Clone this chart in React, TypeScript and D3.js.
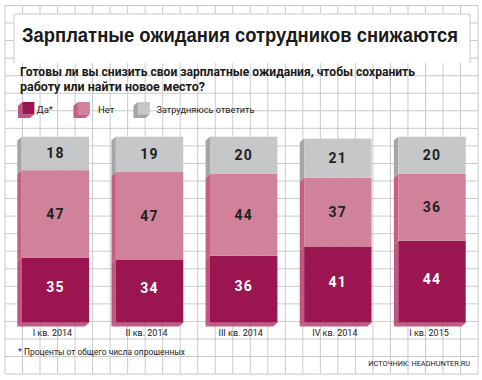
import React from "react";
import * as d3 from "d3";

const quarters = ["I кв. 2014", "II кв. 2014", "III кв. 2014", "IV кв. 2014", "I кв. 2015"];
const yesValues = [35, 34, 36, 41, 44];
const noValues = [47, 47, 44, 37, 36];
const unsureValues = [18, 19, 20, 21, 20];
const seriesKeys = ["yes", "no", "unsure"];
const seriesNames = ["Да*", "Нет", "Затрудняюсь ответить"];
const titleText = "Зарплатные ожидания сотрудников снижаются";
const subtitleLines = ["Готовы ли вы снизить свои зарплатные ожидания, чтобы сохранить", "работу или найти новое место?"];
const footnoteText = "* Проценты от общего числа опрошенных";
const sourceText = "ИСТОЧНИК: HEADHUNTER.RU";

const W = 482;
const H = 380;
const frontColors = ["#9b1651", "#d1829b", "#c6c7c9"];
const sideColors = ["#bf5680", "#c5617f", "#a4a5a8"];
const bottomColor = "#c25a82";
const gridColor = "#cbcbcb";
const DX = 4.4;
const DY = 3.8;

export default function App() {
  const rows = quarters.map((q, i) => ({ q, yes: yesValues[i], no: noValues[i], unsure: unsureValues[i] }));
  const stack = d3.stack<any>().keys(seriesKeys)(rows);
  const x = d3.scaleBand<string>().domain(quarters).range([21.7, 465.7]).paddingInner(0.284).paddingOuter(0);
  const y = d3.scaleLinear().domain([0, 100]).range([322.7, 136.7]);

  const vLines = d3.range(0, 28).map((i) => 5 + i * 17.52);
  const hLines = d3.range(0, 22).map((j) => 5.5 + j * 17.55);

  const legendX = [18, 73.5, 133.5];
  const legendTextX = [36.5, 98, 156.5];
  const legendTextW = [16.5, 16.5, 98];

  const font = "Roboto, 'Liberation Sans', Arial, sans-serif";

  return (
    <div style={{ position: "fixed", left: 0, top: 0, width: W, height: H, background: "#fff" }}>
      <svg width={W} height={H} style={{ display: "block" }}>
        <rect x={0} y={0} width={W} height={H} fill="#fff" />
        {/* grid */}
        <g stroke={gridColor} strokeWidth={1}>
          {vLines.map((vx, i) => (
            <line key={"v" + i} x1={vx} x2={vx} y1={hLines[0]} y2={hLines[hLines.length - 1]} />
          ))}
          {hLines.map((hy, j) => (
            <line key={"h" + j} x1={vLines[0]} x2={vLines[vLines.length - 1]} y1={hy} y2={hy} />
          ))}
        </g>
        {/* title box */}
        <rect x={14} y={14} width={456} height={49} fill="#fff" />
        <path d="M14,63 L14,14 L470,14 L470,63" fill="none" stroke={gridColor} strokeWidth={1} />
        <text x={22} y={41.5} fontFamily="'Liberation Sans', Arial, sans-serif" fontWeight={700} fontSize={19.5}
          fill="#1a1a1a" textLength={436} lengthAdjust="spacingAndGlyphs">{titleText}</text>
        {subtitleLines.map((s, i) => (
          <text key={i} x={20} y={76 + i * 15} fontFamily={font} fontWeight={700} fontSize={13} fill="#1a1a1a"
            textLength={i === 0 ? 395 : 185} lengthAdjust="spacingAndGlyphs">{s}</text>
        ))}
        {/* legend */}
        {seriesNames.map((name, i) => {
          const lx = legendX[i];
          const ly = 102;
          return (
            <g key={name}>
              <polygon points={`${lx + DX},${ly} ${lx},${ly + DY} ${lx},${ly + 16} ${lx + 12},${ly + 16} ${lx + 12 + DX},${ly + 16 - DY} ${lx + DX},${ly + 16 - DY}`}
                fill={sideColors[i]} />
              <rect x={lx + DX} y={ly} width={12} height={16 - DY} fill={frontColors[i]} />
              <text x={legendTextX[i]} y={113.3} fontFamily={font} fontSize={8.5} fill="#222"
                textLength={legendTextW[i]} lengthAdjust="spacingAndGlyphs">{name}</text>
            </g>
          );
        })}
        {/* bars */}
        {quarters.map((q, qi) => {
          const x0 = x(q)!;
          const bw = x.bandwidth();
          const yBottom = y(0);
          return (
            <g key={q}>
              <polygon points={`${x0},${yBottom} ${x0 + bw},${yBottom} ${x0 + bw - DX},${yBottom + DY} ${x0 - DX},${yBottom + DY}`} fill={bottomColor} />
              {stack.map((s, si) => {
                const d = s[qi];
                const yt = y(d[1]);
                const yb = y(d[0]);
                return (
                  <polygon key={"side" + si} points={`${x0},${yt} ${x0 - DX},${yt + DY} ${x0 - DX},${yb + DY} ${x0},${yb}`} fill={sideColors[si]} />
                );
              })}
              {stack.map((s, si) => {
                const d = s[qi];
                const yt = y(d[1]);
                const yb = y(d[0]);
                return <rect key={"f" + si} x={x0} y={yt} width={bw} height={yb - yt} fill={frontColors[si]} />;
              })}
              {stack.map((s, si) => {
                const d = s[qi];
                const yc = (y(d[1]) + y(d[0])) / 2;
                return (
                  <text key={"t" + si} x={x0 + bw / 2} y={yc + 5 - (si === 0 ? 3 : 0)} textAnchor="middle" fontFamily={font} fontWeight={700}
                    fontSize={14} letterSpacing={1.2} fill={si === 0 ? "#ffffff" : "#222"}>{d[1] - d[0]}</text>
                );
              })}
              <text x={x0 + bw / 2 - 3} y={336} textAnchor="middle" fontFamily={font} fontSize={9} fill="#222">{q}</text>
            </g>
          );
        })}
        <text x={18.3} y={355} fontFamily={font} fontSize={8.5} fill="#222" textLength={166.7} lengthAdjust="spacingAndGlyphs">{footnoteText}</text>
        <text x={368.3} y={366} fontFamily={font} fontSize={7.5} fill="#222" textLength={101.7} lengthAdjust="spacingAndGlyphs">{sourceText}</text>
      </svg>
    </div>
  );
}
